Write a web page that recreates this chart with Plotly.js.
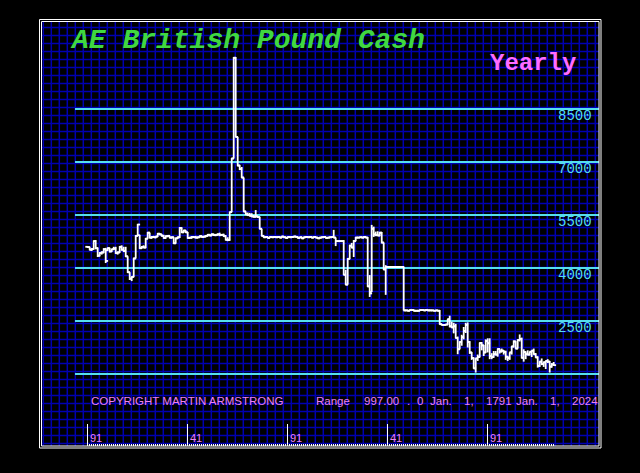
<!DOCTYPE html>
<html><head><meta charset="utf-8">
<script src="https://cdn.plot.ly/plotly-3.0.1.min.js"></script>
<style>html,body{margin:0;padding:0;background:#000;}#chart{width:640px;height:473px;}</style>
</head><body><div id="chart"></div>
<script>
// Yearly OHLC, British Pound in US$ x 1000, 1791 .. 2024
const firstYear = 1791;
const openV = [
4600,4590,4520,4540,4760,4560,4350,4420,4440,4530,
4500,4560,4470,4530,4550,4420,4440,4600,4520,4480,
4330,3880,3700,3750,4270,4910,4930,4560,4600,4580,
4830,5000,4860,4880,4870,4890,4970,4950,4910,4850,
4900,4910,4860,4870,4700,4840,4870,5130,5010,5060,
5010,4850,4860,4880,4870,4860,4870,4900,4880,4890,
4910,4940,4920,4950,4930,4940,4950,4930,4940,4900,
4800,4790,5580,7100,9950,7710,6900,6800,6560,5600,
5520,5500,5480,5460,5450,5460,5440,5110,4910,4870,
4880,4850,4880,4870,4880,4870,4880,4860,4890,4870,
4850,4880,4870,4880,4890,4880,4850,4870,4840,4870,
4880,4870,4880,4860,4880,4860,4840,4860,4870,4880,
4850,4860,4870,4880,4860,4760,4760,4760,4760,3810,
3530,4260,4630,4580,4760,4860,4860,4870,4860,4880,
4860,3480,3320,5110,4950,4930,4920,5000,4720,3960,
4030,4030,4030,4030,4030,4030,4030,4030,4030,2800,
2800,2790,2810,2810,2790,2790,2790,2810,2810,2800,
2810,2800,2800,2800,2790,2800,2790,2410,2390,2390,
2400,2550,2350,2320,2350,2020,1700,1910,2040,2220,
2390,1910,1610,1450,1160,1440,1480,1880,1810,1610,
1930,1870,1510,1480,1560,1550,1710,1640,1660,1620,
1490,1450,1610,1780,1920,1720,1960,1990,1460,1620,
1560,1550,1630,1660,1560,1470,1230,1350,1280,1330,
1370,1350,1210,1270];
const highV = [
4620,4600,4560,4780,4790,4580,4450,4470,4560,4570,
4580,4570,4540,4600,4600,4470,4620,4640,4600,4600,
4330,3880,3760,4290,4930,5250,4940,4620,4640,4850,
5020,5000,4900,4910,4900,4990,4990,4960,4940,4920,
4930,4910,4890,4870,4860,4890,5160,5150,5080,5070,
5020,4880,4900,4900,4910,4890,4920,4920,4910,4930,
4960,4960,4980,4970,4960,4980,5000,4960,4970,4930,
4870,5590,7110,9970,9970,7710,6920,6860,6560,5600,
5570,5560,5550,5500,5640,5470,5450,5110,4920,4890,
4890,4890,4900,4890,4900,4890,4900,4900,4900,4890,
4890,4900,4900,4900,4910,4900,4880,4890,4880,4890,
4890,4890,4890,4890,4890,4880,4880,4890,4890,4890,
4880,4890,4890,5080,4860,4770,4770,4770,4790,3950,
4280,4660,4710,4790,4880,4880,4880,4890,4890,4890,
4880,3800,5220,5170,5030,5040,5020,5020,4720,4080,
4040,4040,4040,4040,4040,4040,4040,4040,4040,2810,
2810,2820,2830,2830,2800,2810,2820,2820,2820,2830,
2830,2820,2810,2800,2810,2810,2810,2420,2400,2410,
2560,2650,2480,2450,2420,2060,1920,2110,2330,2450,
2460,1930,1620,1470,1450,1550,1890,1900,1820,1980,
2010,2010,1590,1650,1650,1720,1710,1720,1680,1660,
1510,1610,1790,1950,1930,1980,2120,2030,1700,1640,
1670,1630,1660,1720,1590,1500,1360,1440,1350,1370,
1420,1370,1310,1340];
const lowV = [
4570,4500,4480,4520,4530,4310,4330,4380,4420,4140,
4480,4440,4450,4510,4400,4380,4430,4490,4450,4310,
3860,3660,3630,3740,4270,4910,4540,4540,4560,4560,
4830,4840,4830,4850,4840,4880,4930,4890,4830,4830,
4870,4840,4830,4680,4690,4820,4850,4990,5000,4990,
4830,4830,4830,4850,4840,4840,4850,4860,4860,4870,
4890,4900,4910,4910,4900,4920,4900,4910,4880,4780,
4760,4770,5580,7100,7700,6880,6770,6550,5590,5500,
5470,5460,5440,5430,5440,5420,5100,4900,4860,4850,
4840,4840,4850,4850,4860,4850,4850,4850,4860,4840,
4840,4860,4850,4870,4870,4840,4840,4830,4830,4850,
4860,4850,4840,4850,4850,4820,4820,4850,4860,4840,
4840,4850,4850,4850,4620,4750,4750,4750,3800,3520,
3530,4250,4560,4310,4760,4850,4850,4850,4840,4850,
3460,3180,3320,4880,4900,4910,4900,4700,3940,3240,
4020,4020,4020,4020,4020,4020,4020,4020,2800,2790,
2780,2780,2800,2780,2780,2780,2780,2800,2800,2790,
2780,2790,2790,2780,2780,2780,2400,2380,2380,2380,
2390,2320,2300,2150,2010,1560,1700,1800,1980,2160,
1750,1570,1400,1150,1040,1370,1470,1670,1510,1600,
1610,1420,1420,1460,1530,1490,1580,1610,1550,1400,
1370,1400,1550,1750,1710,1720,1920,1440,1350,1420,
1530,1530,1480,1550,1460,1180,1200,1250,1200,1140,
1310,1040,1180,1230];
const closeV = [
4590,4520,4540,4760,4560,4350,4420,4440,4530,4200,
4560,4470,4530,4550,4420,4440,4600,4520,4480,4330,
3880,3700,3750,4270,4910,5230,4560,4600,4580,4830,
5000,4860,4880,4870,4890,4970,4950,4910,4850,4900,
4910,4860,4870,4700,4840,4870,5130,5010,5060,5010,
4850,4860,4880,4870,4860,4870,4900,4880,4890,4910,
4940,4920,4950,4930,4940,4950,4930,4940,4900,4800,
4790,5580,7100,9950,7710,6900,6800,6560,5600,5520,
5500,5480,5460,5450,5460,5440,5110,4910,4870,4880,
4850,4880,4870,4880,4870,4880,4860,4890,4870,4850,
4880,4870,4880,4890,4880,4850,4870,4840,4870,4880,
4870,4880,4860,4880,4860,4840,4860,4870,4880,4850,
4860,4870,4880,4860,4760,4760,4760,4760,3810,3530,
4260,4630,4580,4760,4860,4860,4870,4860,4880,4860,
3480,3280,5110,4950,4930,4920,5000,4720,3960,4030,
4030,4030,4030,4030,4030,4030,4030,4030,2800,2800,
2790,2810,2810,2790,2790,2790,2810,2810,2800,2810,
2800,2800,2800,2790,2800,2790,2410,2390,2390,2400,
2550,2350,2320,2350,2020,1700,1910,2040,2220,2390,
1910,1610,1450,1160,1440,1480,1880,1810,1610,1930,
1870,1510,1480,1560,1550,1710,1640,1660,1620,1490,
1450,1610,1780,1920,1720,1960,1990,1460,1620,1560,
1550,1630,1660,1560,1470,1230,1350,1280,1330,1370,
1350,1210,1270,1250];
const years = openV.map((_, i) => firstYear + i);

const levels = [1000, 2500, 4000, 5500, 7000, 8500];
const levelLabels = ['', '2500', '4000', '5500', '7000', '8500'];
const tickYears = [1791, 1841, 1891, 1941, 1991];
const tickLabels = ['91', '41', '91', '41', '91'];
const titleText = 'AE British Pound Cash';
const periodText = 'Yearly';
const copyrightText = 'COPYRIGHT MARTIN ARMSTRONG';
const rangeTokens = ['Range', '997.00', '.', '0', 'Jan.', '1,', '1791', 'Jan.', '1,', '2024'];
const rangeTokenPx = [314.5, 363.4, 406.2, 415.9, 429.2, 463.2, 484.7, 515.0, 549.1, 571.3];

// ---- styling / geometry ----
const W = 640, H = 473;
const px = v => v / W;
const py = v => 1 - v / H;
const CYAN = '#55DDEE', PINK = '#EE80F0', GREEN = '#40D840', MAGENTA = '#FF6CFF', BLUE = '#0000B0';
const TICK = 1.2; // half-length of open/close ticks, in years

const bx = [], by = [];
for (let i = 0; i < years.length; i++) {
  const x = years[i];
  bx.push(x - TICK, x, null, x, x, null, x, x + TICK, null);
  by.push(openV[i], openV[i], null, lowV[i], highV[i], null, closeV[i], closeV[i], null);
}
const bars = {type: 'scatter', mode: 'lines', x: bx, y: by, connectgaps: false,
  line: {color: '#FFFFFF', width: 1.8}, hoverinfo: 'skip', cliponaxis: false};

const shapes = [];
// blue background grid inside frame
for (let gx = 43.3; gx < 599; gx += 8) {
  shapes.push({type: 'line', xref: 'paper', yref: 'paper', layer: 'below',
    x0: px(gx), x1: px(gx), y0: py(21.5), y1: py(446), line: {color: BLUE, width: 1.5}});
}
for (let gy = 27.5; gy < 446; gy += 8) {
  shapes.push({type: 'line', xref: 'paper', yref: 'paper', layer: 'below',
    x0: px(41.5), x1: px(599), y0: py(gy), y1: py(gy), line: {color: BLUE, width: 1.5}});
}
// double white frame
shapes.push({type: 'rect', xref: 'paper', yref: 'paper', layer: 'above',
  x0: px(39.5), x1: px(601), y0: py(448), y1: py(19.5), line: {color: '#FFFFFF', width: 1}});
shapes.push({type: 'rect', xref: 'paper', yref: 'paper', layer: 'above',
  x0: px(41.5), x1: px(599), y0: py(446), y1: py(21.5), line: {color: '#FFFFFF', width: 1}});

const annotations = [];
annotations.push({xref: 'paper', yref: 'paper', x: px(68), y: py(41), xanchor: 'left', yanchor: 'middle',
  text: titleText, showarrow: false,
  font: {family: 'Liberation Mono', size: 28, color: GREEN, weight: 'bold', style: 'italic'}});
annotations.push({xref: 'paper', yref: 'paper', x: px(488), y: py(64), xanchor: 'left', yanchor: 'middle',
  text: periodText, showarrow: false,
  font: {family: 'Liberation Mono', size: 24, color: MAGENTA, weight: 'bold'}});
levels.forEach((v, i) => {
  if (!levelLabels[i]) return;
  annotations.push({xref: 'paper', yref: 'y', x: px(594), y: v, xanchor: 'right', yanchor: 'top', yshift: 3,
    text: levelLabels[i], showarrow: false,
    font: {family: 'Liberation Mono', size: 14, color: CYAN}});
});
tickYears.forEach((t, i) => {
  annotations.push({xref: 'x', yref: 'paper', x: t, y: py(438), xanchor: 'left', yanchor: 'middle',
    text: tickLabels[i], showarrow: false,
    font: {family: 'Liberation Sans', size: 11, color: PINK}});
});
annotations.push({xref: 'paper', yref: 'paper', x: px(88.6), y: py(401), xanchor: 'left', yanchor: 'middle',
  text: copyrightText, showarrow: false,
  font: {family: 'Liberation Sans', size: 11.5, color: PINK}});
rangeTokens.forEach((t, i) => {
  annotations.push({xref: 'paper', yref: 'paper', x: px(rangeTokenPx[i] - 1), y: py(401), xanchor: 'left', yanchor: 'middle',
    text: t, showarrow: false,
    font: {family: 'Liberation Sans', size: 11.5, color: PINK}});
});

// x range: year 1791 at 87.7px, 2 px per year; domain 75..599 px
const x0px = 75, x1px = 599, yearPx = 2.0, basePx = 87.7;
const xRange = [firstYear + (x0px - basePx) / yearPx, firstYear + (x1px - basePx) / yearPx];
// y range: 1000 at 374px, 1500 units per 53px
const unitPerPx = 1500 / 53;
const yRange = [1000 - (H - 374) * unitPerPx, 1000 + 374 * unitPerPx];

const layout = {
  width: W, height: H, margin: {l: 0, r: 0, t: 0, b: 0, pad: 0},
  paper_bgcolor: '#000000', plot_bgcolor: 'rgba(0,0,0,0)', showlegend: false,
  xaxis: {domain: [px(x0px), px(x1px)], range: xRange, showgrid: false, zeroline: false, showline: false,
    anchor: 'free', position: 1 - 446 / H,
    tickmode: 'array', tickvals: tickYears, ticktext: tickLabels, showticklabels: false,
    ticks: 'inside', ticklen: 22, tickwidth: 1.5, tickcolor: '#FFFFFF',
    minor: {tickmode: 'array', tickvals: years, ticks: 'inside', ticklen: 2, tickwidth: 1, tickcolor: '#FFFFFF', showgrid: false}},
  yaxis: {domain: [0, 1], range: yRange, zeroline: false, showline: false,
    tickmode: 'array', tickvals: levels, showticklabels: false, ticks: '',
    showgrid: true, gridcolor: CYAN, gridwidth: 2},
  shapes: shapes, annotations: annotations
};

Plotly.newPlot('chart', [bars], layout, {staticPlot: true, displayModeBar: false});
</script></body></html>
